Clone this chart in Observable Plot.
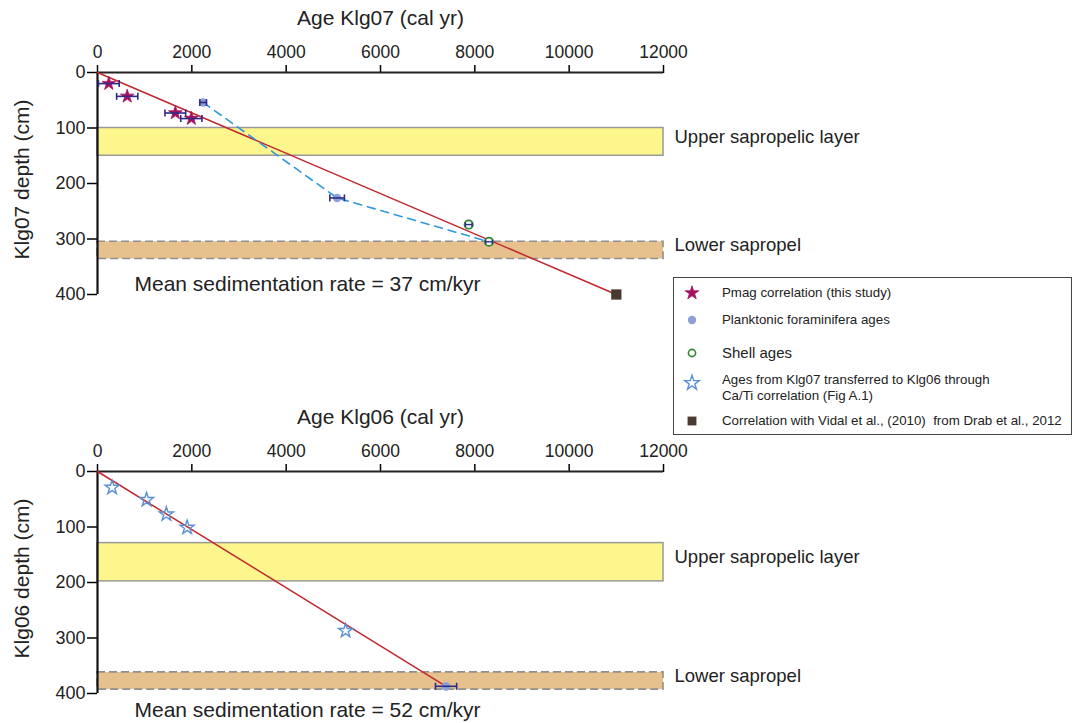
<!DOCTYPE html>
<html><head><meta charset="utf-8">
<script src="https://cdn.jsdelivr.net/npm/d3@7"></script>
<script src="https://cdn.jsdelivr.net/npm/@observablehq/plot@0.6"></script>
<style>
body{margin:0;background:#fff;font-family:"Liberation Sans",Arial,Helvetica,sans-serif;}
#root{position:relative;width:1075px;height:723px;overflow:hidden;background:#fff;}
#root svg.plot-svg{position:absolute;left:0;}
.legend{position:absolute;left:673px;top:277px;width:399px;height:158px;border:1.5px solid #444;box-sizing:border-box;background:#fff;color:#222;}
.legend .sym{position:absolute;left:6px;width:24px;height:24px;}
.legend .txt{position:absolute;left:48px;font-size:13.3px;line-height:16px;white-space:pre;transform:translateY(-50%);}
</style></head>
<body><div id="root"></div>
<script>
// ---------- data ----------
const ageTicks = [0, 2000, 4000, 6000, 8000, 10000, 12000];
const depthTicks = [0, 100, 200, 300, 400];
const bandNames = ["Upper sapropelic layer", "Lower sapropel"];

// Klg07
const pmagAge07 = [240, 630, 1650, 1990];
const pmagDepth07 = [20, 43, 73, 83];
const pmagErr07 = [220, 225, 220, 225];
const foramAge07 = [2240, 5080, 8300];
const foramDepth07 = [54, 226, 305];
const foramErr07 = [70, 155, 70];
const shellAge07 = [7870, 8300];
const shellDepth07 = [274, 305];
const shellErr07 = [70, 70];
const vidalAge07 = [11000];
const vidalDepth07 = [400];
const fitAge07 = [0, 11000];
const fitDepth07 = [0, 400];
const bandTop07 = [100, 305];
const bandBottom07 = [150, 336];
const rate07 = 37;

// Klg06
const transAge06 = [310, 1040, 1460, 1900, 5260];
const transDepth06 = [29, 51, 77, 101, 287];
const foramAge06 = [7390];
const foramDepth06 = [387];
const foramErr06 = [225];
const fitAge06 = [0, 7390];
const fitDepth06 = [0, 387];
const bandTop06 = [129, 362];
const bandBottom06 = [198, 393];
const rate06 = 52;

// ---------- styles ----------
const C = {
  red: "#c0272d", magenta: "#a5105f", foram: "#8c9fd9", err: "#2e2a86",
  dash: "#2f97dc", shell: "#2f8a2f", vidal: "#4a3b32", open: "#5b8fd8",
  yellow: "#fcf68c", orange: "#e6c18e", bandStroke: "#999999"
};
const FONT = "Liberation Sans, Arial, sans-serif";

const zip = (a, d, e) => a.map((v, i) => ({age: v, depth: d[i], err: e ? e[i] : 0}));
const bands = (t, b) => bandNames.map((n, i) => ({name: n, top: t[i], bottom: b[i]}));

const capSymbol = {draw(ctx, size) { const h = Math.sqrt(size / Math.PI); ctx.moveTo(0, -h); ctx.lineTo(0, h); }};

function errorMarks(data, capR = 3.5, sw = 1.6) {
  return [
    Plot.link(data, {x1: d => d.age - d.err, x2: d => d.age + d.err, y1: "depth", y2: "depth", stroke: C.err, strokeWidth: sw}),
    Plot.dot(data, {x: d => d.age - d.err, y: "depth", symbol: capSymbol, r: capR, stroke: C.err, strokeWidth: sw}),
    Plot.dot(data, {x: d => d.age + d.err, y: "depth", symbol: capSymbol, r: capR, stroke: C.err, strokeWidth: sw})
  ];
}

function frameMarks(bandData, title, ytitle, rate, rateDy) {
  return [
    Plot.rect(bandData.slice(0, 1), {y1: "top", y2: "bottom", fill: C.yellow, stroke: C.bandStroke, strokeWidth: 1.5}),
    Plot.rect(bandData.slice(1), {y1: "top", y2: "bottom", fill: C.orange, stroke: "#8f8f8f", strokeWidth: 1.6, strokeDasharray: "8,4"}),
    Plot.text(bandData, {y: d => (d.top + d.bottom) / 2, text: "name", frameAnchor: "right", dx: 11, dy: -5, textAnchor: "start", lineAnchor: "middle", fontSize: 18.5, fill: "#222"}),
    Plot.axisX({anchor: "top", ticks: ageTicks, tickFormat: d => String(d), tickSize: 8, tickPadding: 7, fontSize: 17.5, strokeWidth: 1.5, label: null, fill: "#222"}),
    Plot.axisY({anchor: "left", ticks: depthTicks, tickFormat: d => String(d), tickSize: 10, tickPadding: 2, fontSize: 18, strokeWidth: 1.5, label: null, fill: "#222"}),
    Plot.ruleY([0], {stroke: "#222", strokeWidth: 2}),
    Plot.ruleX([0], {stroke: "#111", strokeWidth: 2.2}),
    Plot.text([title], {frameAnchor: "top", dy: -54, textAnchor: "middle", lineAnchor: "middle", fontSize: 21, fill: "#222"}),
    Plot.text([ytitle], {frameAnchor: "left", dx: -75, dy: -4, rotate: -90, textAnchor: "middle", lineAnchor: "middle", fontSize: 21, fill: "#222"}),
    Plot.text([`Mean sedimentation rate = ${rate} cm/kyr`], {frameAnchor: "bottom-left", dx: 37, dy: rateDy, textAnchor: "start", lineAnchor: "middle", fontSize: 21, fill: "#222"})
  ];
}

const common = (mt, mb, height) => ({
  width: 1075, height, marginLeft: 97, marginRight: 412, marginTop: mt, marginBottom: mb,
  x: {domain: [0, 12000], axis: null},
  y: {domain: [0, 400], reverse: true, axis: null},
  style: {background: "transparent", fontFamily: FONT, overflow: "visible"}
});

// ---------- top plot (Klg07) ----------
const pmag = zip(pmagAge07, pmagDepth07, pmagErr07);
const foram07 = zip(foramAge07, foramDepth07, foramErr07);
const shell07 = zip(shellAge07, shellDepth07, shellErr07);
const topPlot = Plot.plot({
  ...common(72, 10, 304),
  marks: [
    ...frameMarks(bands(bandTop07, bandBottom07), "Age Klg07 (cal yr)", "Klg07 depth (cm)", rate07, -10),
    Plot.line(zip(fitAge07, fitDepth07), {x: "age", y: "depth", stroke: C.red, strokeWidth: 1.5}),
    Plot.line(foram07, {x: "age", y: "depth", stroke: C.dash, strokeWidth: 1.6, strokeDasharray: "8,6"}),
    Plot.dot(pmag, {x: "age", y: "depth", symbol: "star", r: 4.3, fill: C.magenta, stroke: C.magenta, strokeWidth: 0.8}),
    Plot.dot(foram07, {x: "age", y: "depth", r: 4.2, fill: C.foram}),
    Plot.dot(shell07, {x: "age", y: "depth", r: 4.2, fill: "#eef1fa", stroke: C.shell, strokeWidth: 1.7}),
    Plot.dot(zip(vidalAge07, vidalDepth07), {x: "age", y: "depth", symbol: "square", r: 5.8, fill: C.vidal}),
    ...errorMarks(pmag),
    ...errorMarks(foram07.slice(0, 2)),
    ...errorMarks(shell07, 2.4, 1.3)
  ]
});
topPlot.classList.add("plot-svg");
topPlot.style.top = "0px";

// ---------- bottom plot (Klg06) ----------
const trans06 = zip(transAge06, transDepth06);
const foram06 = zip(foramAge06, foramDepth06, foramErr06);
const bottomPlot = Plot.plot({
  ...common(71, 30, 323),
  marks: [
    ...frameMarks(bands(bandTop06, bandBottom06), "Age Klg06 (cal yr)", "Klg06 depth (cm)", rate06, 17),
    Plot.line(zip(fitAge06, fitDepth06), {x: "age", y: "depth", stroke: C.red, strokeWidth: 1.5}),
    Plot.dot(trans06, {x: "age", y: "depth", symbol: "star", r: 4.4, fill: "none", stroke: C.open, strokeWidth: 1.4}),
    Plot.dot(foram06, {x: "age", y: "depth", r: 4.4, fill: C.foram}),
    ...errorMarks(foram06)
  ]
});
bottomPlot.classList.add("plot-svg");
bottomPlot.style.top = "400px";

const root = document.getElementById("root");
root.appendChild(topPlot);
root.appendChild(bottomPlot);

// ---------- legend ----------
const legendItems = [
  {text: "Pmag correlation (this study)", y: 16, sym: d3.symbolStar, size: Math.PI * 4.3 * 4.3, fill: C.magenta, stroke: C.magenta, sw: 0.8},
  {text: "Planktonic foraminifera ages", y: 43, sym: d3.symbolCircle, size: Math.PI * 4.2 * 4.2, fill: C.foram, stroke: "none", sw: 0},
  {text: "Shell ages", y: 76, sym: d3.symbolCircle, size: Math.PI * 3.6 * 3.6, fill: "#fff", stroke: C.shell, sw: 1.6, fs: 15},
  {text: "Ages from Klg07 transferred to Klg06 through\nCa/Ti correlation (Fig A.1)", y: 111, symY: 106, sym: d3.symbolStar, size: Math.PI * 4.6 * 4.6, fill: "none", stroke: C.open, sw: 1.4},
  {text: "Correlation with Vidal et al., (2010)  from Drab et al., 2012", y: 144, sym: d3.symbolSquare, size: Math.PI * 5 * 5, fill: C.vidal, stroke: "none", sw: 0}
];
const legend = document.createElement("div");
legend.className = "legend";
legendItems.forEach(it => {
  const sy = it.symY ?? it.y;
  const s = d3.create("svg").attr("class", "sym").attr("width", 24).attr("height", 24)
    .style("top", (sy - 12 - 1.5) + "px");
  s.append("path").attr("transform", "translate(12,12)")
    .attr("d", d3.symbol(it.sym, it.size)())
    .attr("fill", it.fill).attr("stroke", it.stroke).attr("stroke-width", it.sw);
  legend.appendChild(s.node());
  const t = document.createElement("div");
  t.className = "txt";
  t.style.top = (it.y - 1.5) + "px";
  if (it.fs) t.style.fontSize = it.fs + "px";
  t.textContent = it.text;
  legend.appendChild(t);
});
root.appendChild(legend);
</script>
</body></html>
